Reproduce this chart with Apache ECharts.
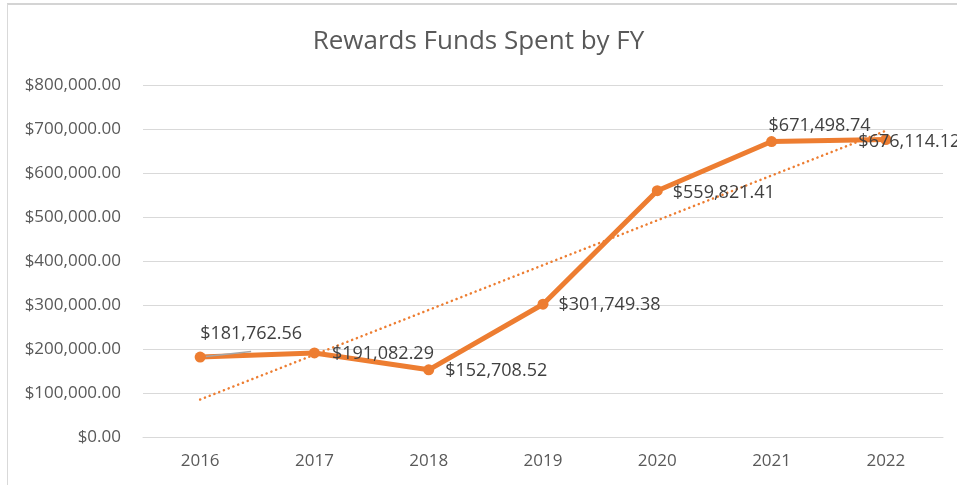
<!DOCTYPE html>
<html>
<head>
<meta charset="utf-8">
<script src="https://cdn.jsdelivr.net/npm/echarts@6/dist/echarts.min.js"></script>
<style>
    html, body { margin: 0; padding: 0; background: #fff; }
    #chart { width: 957px; height: 485px; }
</style>
</head>
<body>
<div id="chart"></div>
<script>
// values
const years = ['2016', '2017', '2018', '2019', '2020', '2021', '2022'];
const fundsSpent = [181762.56, 191082.29, 152708.52, 301749.38, 559821.41, 671498.74, 676114.12];
// linear trendline ends (Excel trendline, read at first and last year)
const trendEnds = [['2016', 85200], ['2022', 696100]];

const orange = '#ED7D31';
const textColor = '#595959';

function money(v) {
    return '$' + v.toLocaleString('en-US', { minimumFractionDigits: 2, maximumFractionDigits: 2 });
}

// where each data label sits relative to its point
const labelSpots = [
    { position: 'top', offset: [51, -4] },
    { position: 'right', offset: [7, 1] },
    { position: 'right', offset: [6, 1] },
    { position: 'right', offset: [5, 1] },
    { position: 'right', offset: [5, 2] },
    { position: 'top', offset: [48, 4] },
    { position: 'right', offset: [-38, 2] }
];

const chart = echarts.init(document.getElementById('chart'));
chart.setOption({
    animation: false,
    textStyle: { fontFamily: 'Open Sans' },
    title: {
        text: 'Rewards Funds Spent by FY',
        left: 'center',
        top: 24,
        textStyle: { fontSize: 26, fontWeight: 'normal', color: textColor, fontFamily: 'Open Sans' }
    },
    graphic: [
        { type: 'line', shape: { x1: 7, y1: 4, x2: 957, y2: 4 }, style: { stroke: '#d4d4d4', lineWidth: 2 } },
        { type: 'line', shape: { x1: 7.5, y1: 4, x2: 7.5, y2: 485 }, style: { stroke: '#d9d9d9', lineWidth: 1 } }
    ],
    grid: { left: 143, right: 14, top: 85, bottom: 48 },
    xAxis: {
        type: 'category',
        data: years,
        axisLine: { lineStyle: { color: '#d9d9d9' } },
        axisTick: { show: false },
        axisLabel: { color: textColor, fontSize: 17, margin: 16 }
    },
    yAxis: {
        type: 'value',
        min: 0,
        max: 800000,
        interval: 100000,
        axisLine: { show: false },
        axisTick: { show: false },
        splitLine: { lineStyle: { color: '#d9d9d9', width: 1 } },
        axisLabel: { color: textColor, fontSize: 17, margin: 22, formatter: v => money(v) }
    },
    series: [
        {
            name: 'Trend',
            type: 'line',
            data: trendEnds,
            symbol: 'none',
            silent: true,
            lineStyle: { color: orange, width: 2.5, type: [0.1, 5], cap: 'round' },
            z: 3
        },
        {
            name: 'Funds Spent',
            type: 'line',
            data: fundsSpent.map((v, i) => ({
                value: v,
                label: labelSpots[i],
                labelLine: { show: i === 0, lineStyle: { color: '#a6a6a6', width: 1.5 } }
            })),
            symbol: 'circle',
            symbolSize: 11,
            itemStyle: { color: orange },
            lineStyle: { color: orange, width: 5 },
            label: {
                show: true,
                color: '#404040',
                fontSize: 18,
                formatter: p => money(p.value)
            },
            z: 4
        }
    ]
});
</script>
</body>
</html>
